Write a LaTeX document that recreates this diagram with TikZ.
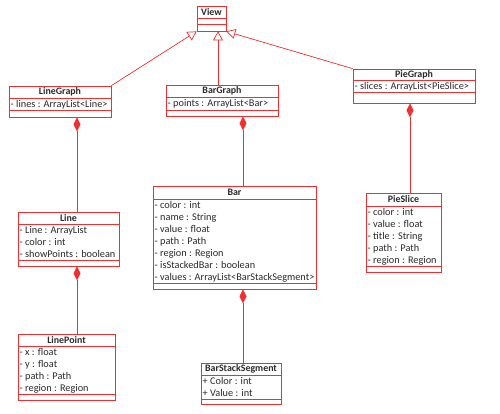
\documentclass[tikz,border=0pt]{standalone}
\usepackage{fontspec}
\setmainfont{Carlito}
\usetikzlibrary{arrows.meta,fit}
\definecolor{umlred}{HTML}{F03030}
\definecolor{txt}{HTML}{2A2A2A}
\tikzset{
  boxline/.style={draw=umlred, line width=0.7pt},
  titletext/.style={font=\fontsize{9.9}{11}\selectfont\bfseries, text=txt, inner sep=0},
  attrtext/.style={font=\fontsize{10.3}{12}\selectfont, text=txt, inner sep=0, anchor=base west},
  inherit/.style={draw=umlred, line width=0.7pt, -{Triangle[open, length=9pt, width=10pt, fill=white]}},
  compose/.style={draw=umlred, line width=0.7pt, {Diamond[length=14pt, width=7pt, fill=umlred]}-},
}
% #1 name, #2 x1, #3 y1, #4 x2, #5 y2, #6 y title line, #7 y attr line, #8 title, #9 attrs
\newcommand{\umlclass}[9]{%
  \node[boxline, fit={(#2,#3)(#4,#5)}, inner sep=0] (#1) {};
  \draw[boxline] (#2,#6) -- (#4,#6) (#2,#7) -- (#4,#7);
  \node[titletext] (#1-t) at ({(#2+#4)/2},{(#3+#6)/2}) {#8};
  \foreach \t [count=\i from 0] in {#9} {
    \node[attrtext] (#1-a\i) at (#2+1.5,{#6+9.3+12*\i}) {\t};
  }
}
\begin{document}
\begin{tikzpicture}[x=1pt,y=-1pt]
\useasboundingbox[fill=white] (0,0) rectangle (500,414);

\umlclass{View}{197}{6}{226}{31}{18}{24.5}{View}{}
\umlclass{LineGraph}{9}{86}{111}{117}{98.5}{110.5}{LineGraph}{- lines : ArrayList<Line>}
\umlclass{BarGraph}{166}{85}{278}{116}{97}{110}{BarGraph}{- points : ArrayList<Bar>}
\umlclass{PieGraph}{353}{69}{475}{103}{80}{92}{PieGraph}{- slices : ArrayList<PieSlice>}
\umlclass{Line}{18}{212}{119}{266}{224}{260}{Line}{- Line : ArrayList, - color : int, - showPoints : boolean}
\umlclass{Bar}{153}{186}{316}{289}{199}{283}{Bar}{- color : int, - name : String, - value : float, - path : Path, - region : Region, - isStackedBar : boolean, - values : ArrayList<BarStackSegment>}
\umlclass{PieSlice}{366}{193}{441}{272}{206}{266}{PieSlice}{- color : int, - value : float, - title : String, - path : Path, - region : Region}
\umlclass{LinePoint}{18}{334}{115}{400}{346}{394}{LinePoint}{- x : float, - y : float, - path : Path, - region : Region}
\umlclass{BarStackSegment}{201}{363}{281}{404}{375}{399}{BarStackSegment}{+ Color : int, + Value : int}

% inheritance
\coordinate (vb) at (218,0);
\draw[inherit] (LineGraph.north east) -- (View.south west);
\draw[inherit] (BarGraph.north -| vb) -- (View.south -| vb);
\draw[inherit] (PieGraph.north west) -- (View.south east);

% composition
\coordinate (cl) at (77,0);
\coordinate (cb) at (243,0);
\coordinate (cp) at (410,0);
\draw[compose] (LineGraph.south -| cl) -- (Line.north -| cl);
\draw[compose] (Line.south -| cl) -- (LinePoint.north -| cl);
\draw[compose] (BarGraph.south -| cb) -- (Bar.north -| cb);
\draw[compose] (Bar.south -| cb) -- (BarStackSegment.north -| cb);
\draw[compose] (PieGraph.south -| cp) -- (PieSlice.north -| cp);
\end{tikzpicture}
\end{document}
